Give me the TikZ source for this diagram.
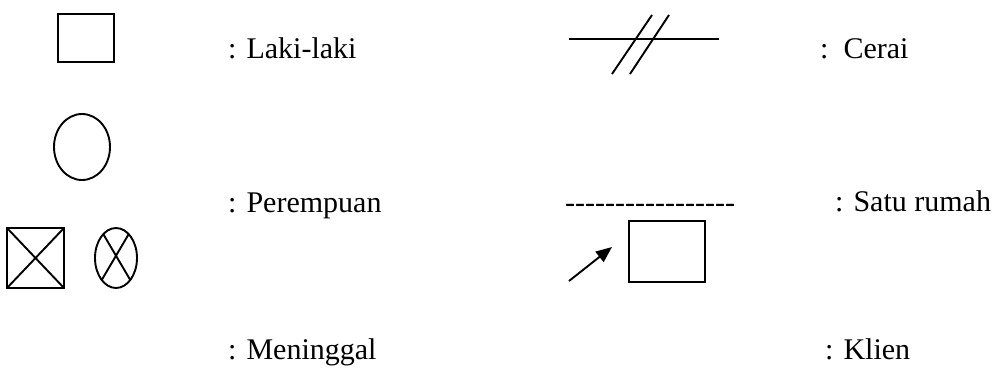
\documentclass[tikz,border=0pt]{standalone}
\usepackage{fontspec}
\setmainfont{Liberation Serif}
\usetikzlibrary{shapes.geometric,arrows.meta}
\newcommand\hyph{\mbox{-}}
\begin{document}
\begin{tikzpicture}[x=1pt,y=-1pt,
  sym/.style={draw,line width=1.9pt,inner sep=0pt,outer sep=0pt},
  box/.style={sym,rectangle},
  oval/.style={sym,ellipse},
  ln/.style={line width=1.9pt},
  lbl/.style={anchor=base west,inner sep=0pt,font=\fontsize{30}{36}\selectfont}]
\useasboundingbox (0,0) rectangle (1001,367);
% left column symbols
\node[box,minimum width=56pt,minimum height=48pt] (male) at (86,38) {};
\node[oval,minimum width=56pt,minimum height=66pt] (female) at (82,147) {};
\node[box,minimum width=57pt,minimum height=60pt] (dm) at (35.5,258) {};
\draw[ln] (dm.north west) -- (dm.south east);
\draw[ln] (dm.north east) -- (dm.south west);
\node[oval,minimum width=42pt,minimum height=60pt] (df) at (116,258) {};
\draw[ln] (df.118) -- (df.-57);
\draw[ln] (df.62) -- (df.-123);
% left labels
\node[lbl] (tmale) at (228,58) {: Laki-laki};
\node[lbl] (tfemale) at (228,212) {: Perempuan};
\node[lbl] (tdead) at (228,359) {: Meninggal};
% divorce
\coordinate (cl) at (569,39);
\coordinate (cr) at (719,39);
\draw[ln] (cl) -- (cr);
\coordinate (s1a) at (612,74);
\coordinate (s1b) at (652,15);
\coordinate (s2a) at (630,74);
\coordinate (s2b) at (669,15);
\draw[ln] (s1a) -- (s1b);
\draw[ln] (s2a) -- (s2b);
\node[lbl] (tdiv) at (820,58) {:\ \ Cerai};
% household
\node[lbl] (dash) at (565,212) {\hyph\hyph\hyph\hyph\hyph\hyph\hyph\hyph\hyph\hyph\hyph\hyph\hyph\hyph\hyph\hyph\hyph};
\node[lbl] (thouse) at (835,211) {: Satu rumah};
% client
\node[box,minimum width=76pt,minimum height=61pt] (client) at (667,251.5) {};
\coordinate (ar0) at (569,281);
\coordinate (ar1) at (612,247);
\draw[ln,-{Triangle[length=16pt,width=13pt]}] (ar0) -- (ar1);
\node[lbl] (tclient) at (825,359) {: Klien};
\end{tikzpicture}
\end{document}
